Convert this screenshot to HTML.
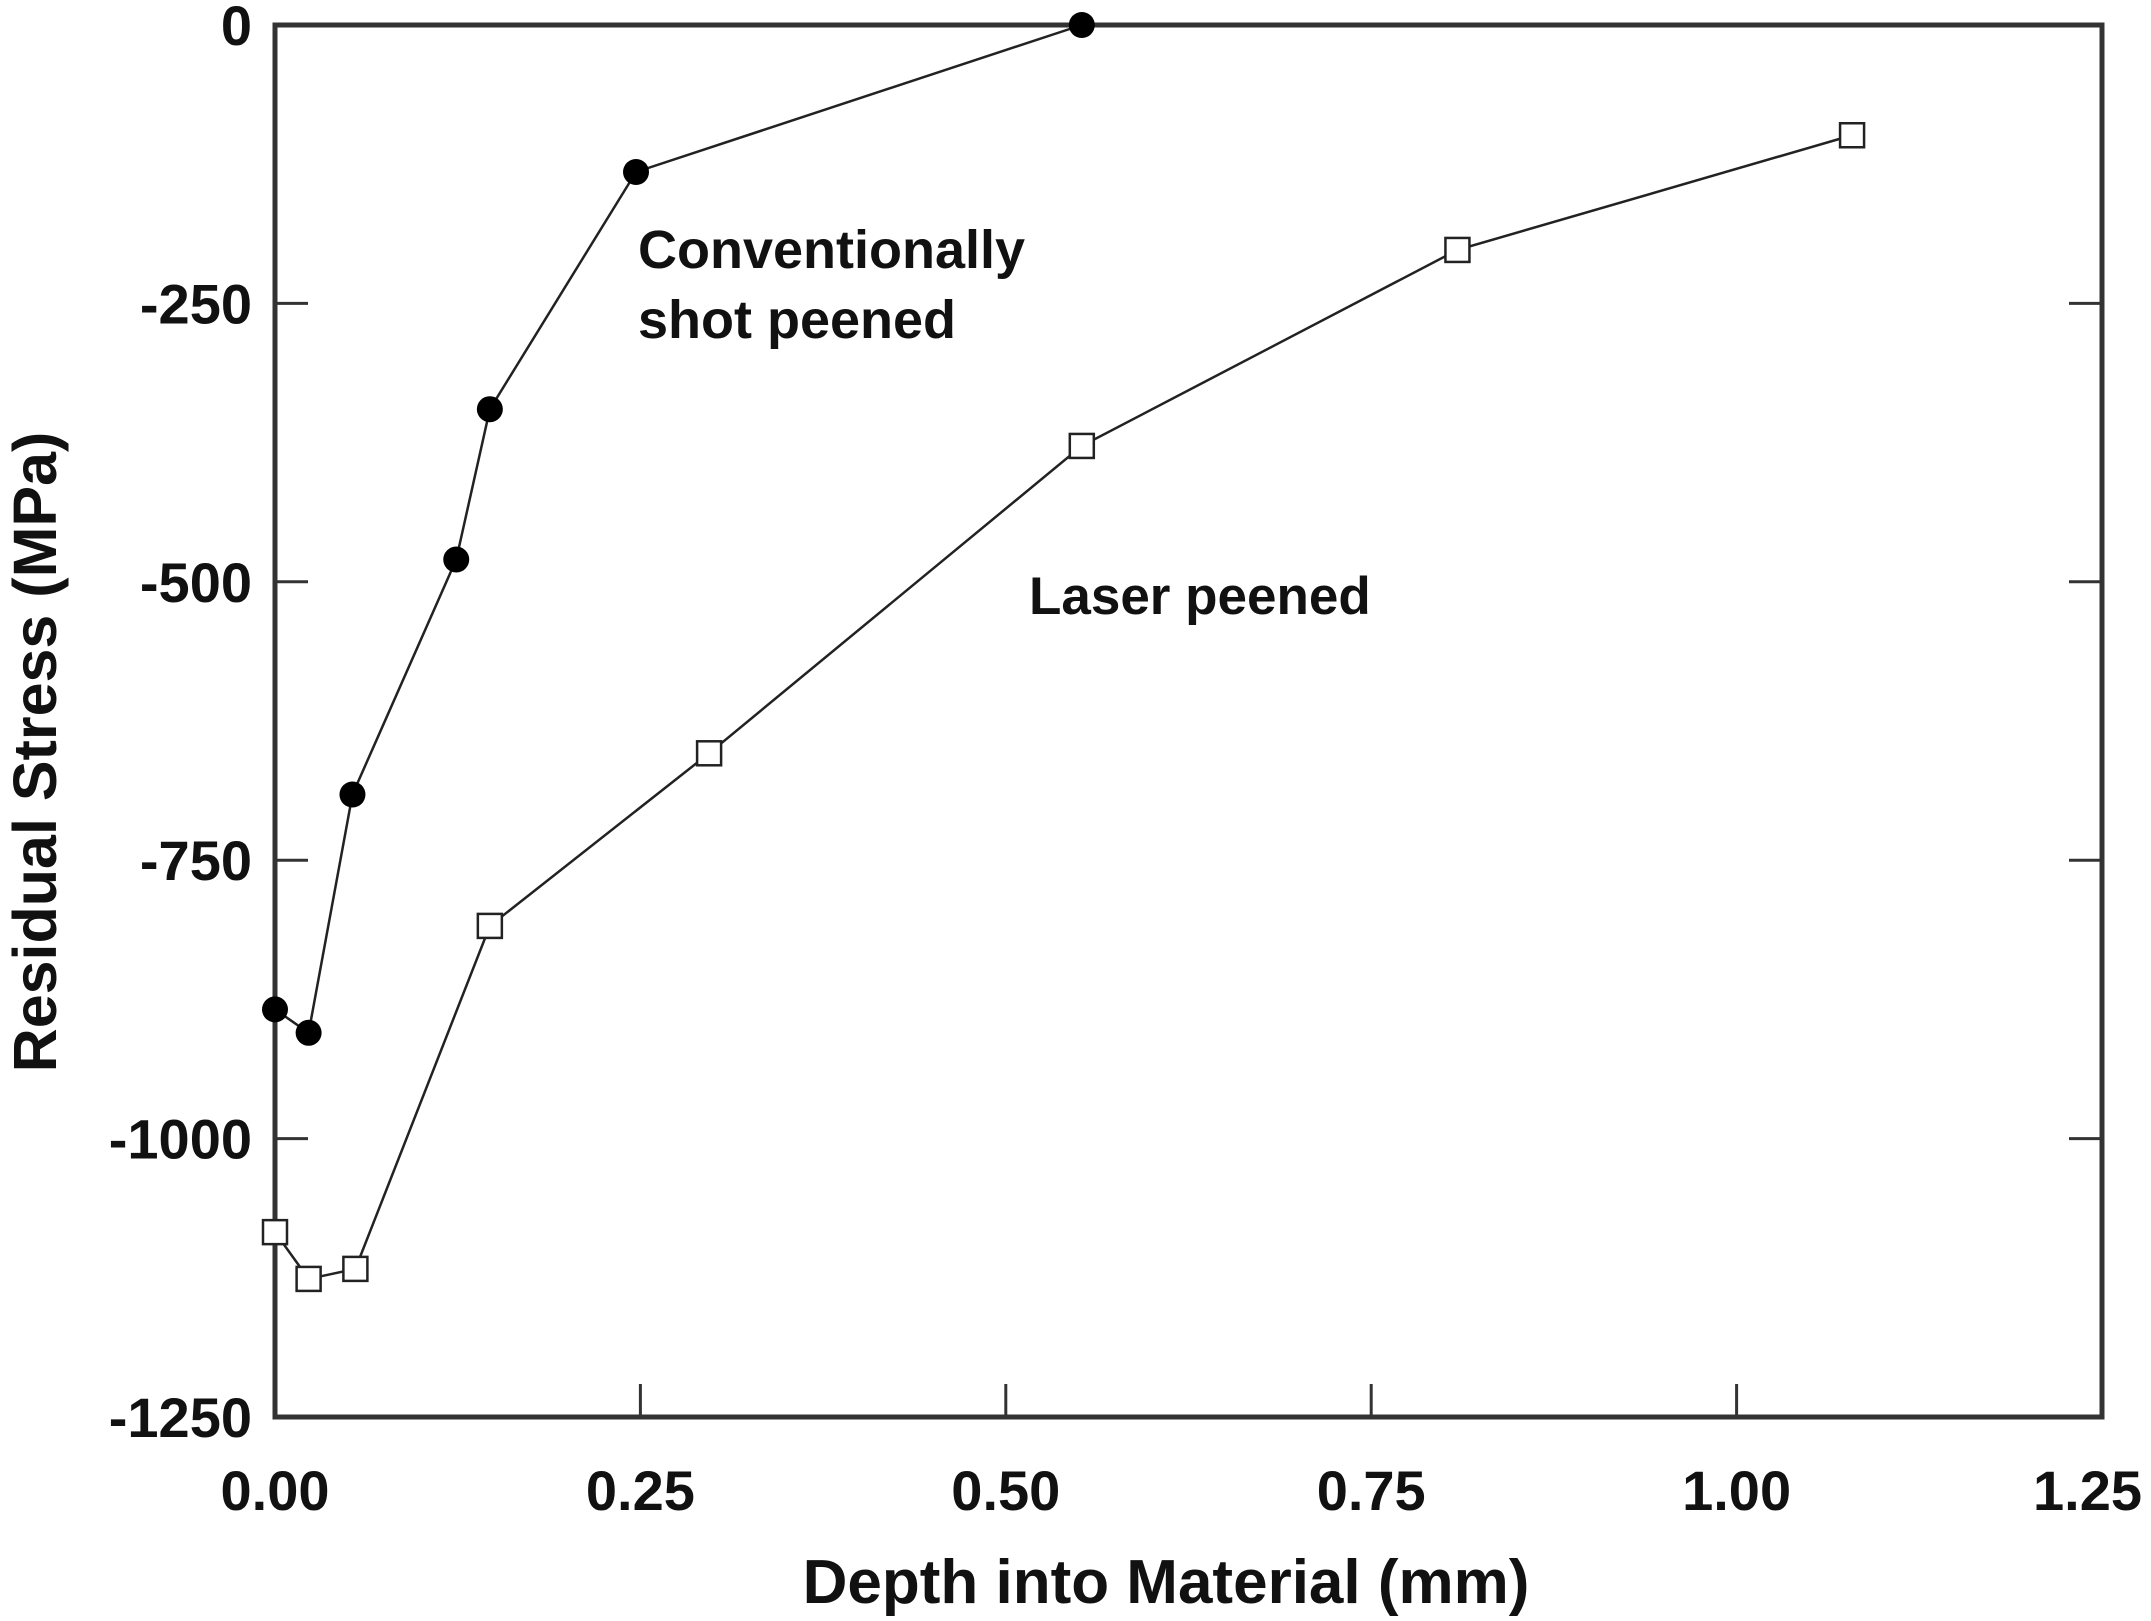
<!DOCTYPE html>
<html><head><meta charset="utf-8">
<style>
html,body{margin:0;padding:0;background:#fff;}
svg{display:block;}
text{font-family:"Liberation Sans",sans-serif;font-weight:bold;fill:#111;}
</style></head>
<body>
<svg id="chart" width="2151" height="1621" viewBox="0 0 2151 1621">
<g id="marks"></g>
<text x="638" y="268" font-size="54">Conventionally</text>
<text x="638" y="338" font-size="54">shot peened</text>
<text x="1029" y="614" font-size="53">Laser peened</text>
<text x="1166" y="1603" font-size="62" text-anchor="middle">Depth into Material (mm)</text>
<text transform="translate(56,752) rotate(-90)" font-size="61" text-anchor="middle">Residual Stress (MPa)</text>
</svg>
<script>
const xTicks = [0, 0.25, 0.5, 0.75, 1.0, 1.25];
const xTickLabels = ["0.00", "0.25", "0.50", "0.75", "1.00", "1.25"];
const yTicks = [0, -250, -500, -750, -1000, -1250];
const yTickLabels = ["0", "-250", "-500", "-750", "-1000", "-1250"];
const shotDepth = [0.0, 0.023, 0.053, 0.124, 0.147, 0.247, 0.552];
const shotStress = [-884, -905, -691, -480, -345, -132, 0];
const laserDepth = [0.0, 0.023, 0.055, 0.147, 0.297, 0.552, 0.809, 1.079];
const laserStress = [-1084, -1126, -1117, -809, -654, -378, -202, -99];

const L = 275, R = 2102, T = 25, B = 1417;
function sx(v){ return L + (v - 0) / 1.25 * (R - L); }
function sy(v){ return T + (0 - v) / 1250 * (B - T); }
const NS = "http://www.w3.org/2000/svg";
const g = document.getElementById('marks');
function mk(tag, attrs){ const e = document.createElementNS(NS, tag); for (const k in attrs) e.setAttribute(k, attrs[k]); g.appendChild(e); return e; }

const frame = mk('rect', {x:L, y:T, width:R-L, height:B-T, fill:'none', stroke:'#333', 'stroke-width':5});



xTicks.forEach((v, i) => {
  const x = sx(v);
  const last = i === xTicks.length - 1;
  if (i > 0 && !last) {
    const t = mk('line', {x1:x, x2:x, y1:B, y2:B-33, stroke:'#333', 'stroke-width':3});
    
    
  }
  const lb = mk('text', {x: last ? 2142 : x, y:1510, 'font-size':56, 'text-anchor': last ? 'end' : 'middle'});
  lb.textContent = xTickLabels[i];
  
  
});
yTicks.forEach((v, i) => {
  const y = sy(v);
  if (i > 0 && i < yTicks.length - 1) {
    const t = mk('line', {x1:L, x2:L+33, y1:y, y2:y, stroke:'#333', 'stroke-width':3});
    
    
    const t2 = mk('line', {x1:R, x2:R-33, y1:y, y2:y, stroke:'#333', 'stroke-width':3});
    
    
  }
  const lb = mk('text', {x:252, y:y+20, 'font-size':56, 'text-anchor':'end'});
  lb.textContent = yTickLabels[i];
  
  
});

function series(xs, ys, name, marker){
  const pts = xs.map((x, i) => sx(x) + ',' + sy(ys[i])).join(' ');
  const pl = mk('polyline', {points:pts, fill:'none', stroke:'#222', 'stroke-width':2.5});
  
  
  xs.forEach((x, i) => {
    let m;
    if (marker === 'circle') {
      m = mk('circle', {cx:sx(x), cy:sy(ys[i]), r:13, fill:'#000'});
    } else {
      m = mk('rect', {x:sx(x)-12, y:sy(ys[i])-12, width:24, height:24, fill:'#fff', stroke:'#222', 'stroke-width':2.5});
    }
    
    
  });
}
series(shotDepth, shotStress, 'shot-peened', 'circle');
series(laserDepth, laserStress, 'laser-peened', 'square');
</script>
</body></html>
